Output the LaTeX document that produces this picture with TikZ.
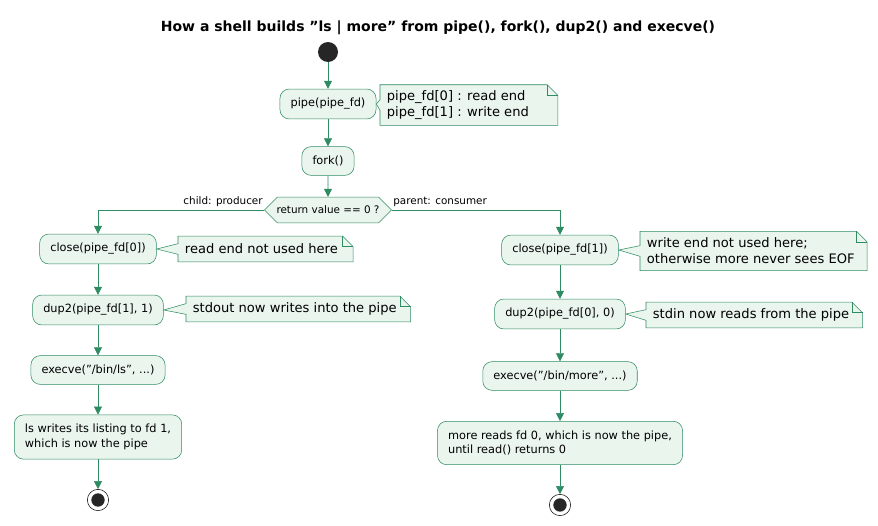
\documentclass[tikz,border=0pt]{standalone}
\usepackage{fontspec}
\setmainfont{DejaVu Sans}
\usetikzlibrary{arrows.meta,shapes.misc}
\definecolor{actfill}{HTML}{EAF5EE}
\definecolor{actline}{HTML}{2E8B62}
\tikzset{
  act/.style={draw=actline,fill=actfill,rounded corners=7pt,font=\fontsize{8.5}{11}\selectfont,
    inner xsep=8pt,inner ysep=7pt,align=left},
  notetext/.style={font=\fontsize{9.8}{12}\selectfont,inner xsep=5pt,inner ysep=4pt,align=left,anchor=west},
  flow/.style={draw=actline,-{Triangle[length=6pt,width=6pt]}},
  lbl/.style={font=\fontsize{7.8}{9}\selectfont,inner sep=1pt}
}
% note with folded corner, pointing back at an activity
\newcommand{\notefor}[2]{%
  \draw[actline,fill=actfill] (#2.north west) -- ([xshift=-8pt]#2.north east) -- ([yshift=-8pt]#2.north east)
     -- (#2.south east) -- (#2.south west) -- ([yshift=-4pt]#2.west) -- (#1.east) -- ([yshift=4pt]#2.west) -- cycle;
  \draw[actline] ([xshift=-8pt]#2.north east) |- ([yshift=-8pt]#2.north east);
  \node[notetext] at (#2.west) {\csname notetxt#2\endcsname};}
\begin{document}
\begin{tikzpicture}[x=0.75pt,y=-0.75pt]
\useasboundingbox (0,0) rectangle (878,525);
\node[font=\bfseries\fontsize{10.5}{12}\selectfont] (title) at (438,28) {How a shell builds "ls | more" from pipe(), fork(), dup2() and execve()};

\node[circle,fill=black!85,minimum size=15pt,inner sep=0] (start) at (328,52) {};
\node[act] (pipe) at (328,104) {pipe(pipe\_fd)};
\node[act] (fork) at (328,161) {fork()};
\node[draw=actline,fill=actfill,chamfered rectangle,chamfered rectangle xsep=6pt,inner sep=3pt,
  font=\fontsize{7.8}{9}\selectfont] (test) at (328,210) {return value == 0 ?};

% child side
\node[act] (closeR) at (98,249) {close(pipe\_fd[0])};
\node[act] (dupW) at (98,310) {dup2(pipe\_fd[1], 1)};
\node[act] (execls) at (98,370) {execve("/bin/ls", ...)};
\node[act] (lsw) at (98,437) {ls writes its listing to fd 1,\\which is now the pipe};
\node[circle,draw=black,minimum size=16pt,inner sep=0] (endL) at (98,500) {};
\fill[black!85] (endL) circle (5pt);

% parent side
\node[act] (closeW) at (560,250) {close(pipe\_fd[1])};
\node[act] (dupR) at (560,314) {dup2(pipe\_fd[0], 0)};
\node[act] (execmore) at (560,376) {execve("/bin/more", ...)};
\node[act] (morer) at (560,443) {more reads fd 0, which is now the pipe,\\until read() returns 0};
\node[circle,draw=black,minimum size=16pt,inner sep=0] (endR) at (560,505) {};
\fill[black!85] (endR) circle (5pt);

% notes
\node[notetext,minimum width=133pt,minimum height=30pt] (npipe) at (380,105) {};
\node[notetext,minimum width=131pt,minimum height=19pt] (nclR) at (178,249) {};
\node[notetext,minimum width=168pt,minimum height=19pt] (ndupW) at (186,309) {};
\node[notetext,minimum width=170pt,minimum height=29pt] (nclW) at (640,251) {};
\node[notetext,minimum width=162pt,minimum height=19pt] (ndupR) at (646,315) {};
\def\notetxtnpipe{pipe\_fd[0] : read end\\pipe\_fd[1] : write end}
\def\notetxtnclR{read end not used here}
\def\notetxtndupW{stdout now writes into the pipe}
\def\notetxtnclW{write end not used here;\\otherwise more never sees EOF}
\def\notetxtndupR{stdin now reads from the pipe}
\notefor{pipe}{npipe}
\notefor{closeR}{nclR}
\notefor{dupW}{ndupW}
\notefor{closeW}{nclW}
\notefor{dupR}{ndupR}

% flow
\draw[flow] (start) -- (pipe);
\draw[flow] (pipe) -- (fork);
\draw[flow] (fork) -- (test);
\draw[flow] (test.west) -| (closeR.north);
\draw[flow] (test.east) -| (closeW.north);
\node[lbl,anchor=south east] at ([yshift=1pt]test.west) {child: producer};
\node[lbl,anchor=south west] at ([yshift=1pt]test.east) {parent: consumer};
\draw[flow] (closeR) -- (dupW);
\draw[flow] (dupW) -- (execls);
\draw[flow] (execls) -- (lsw);
\draw[flow] (lsw) -- (endL);
\draw[flow] (closeW) -- (dupR);
\draw[flow] (dupR) -- (execmore);
\draw[flow] (execmore) -- (morer);
\draw[flow] (morer) -- (endR);
\end{tikzpicture}
\end{document}
